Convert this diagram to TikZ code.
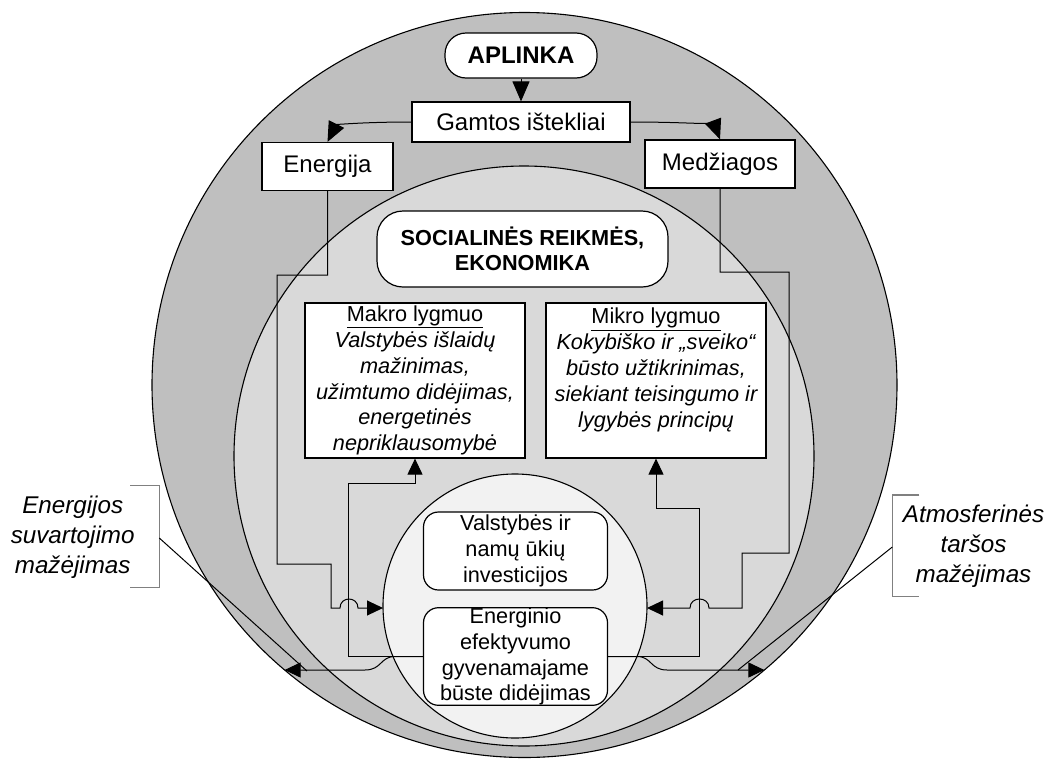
\documentclass[tikz,border=0pt]{standalone}
\usepackage{fontspec}
\setmainfont{Liberation Sans}
\usetikzlibrary{arrows.meta}
\begin{document}
\begin{tikzpicture}[x=1pt,y=-1pt,
  conn/.style={draw=black,line width=1pt},
  arr/.style={conn,-{Triangle[length=16pt,width=15pt]}},
  bigarr/.style={conn,-{Triangle[length=20pt,width=17pt]}},
  sqbox/.style={draw=black,line width=1.2pt,fill=white,inner sep=0pt,align=center},
  rbox/.style={sqbox,rounded corners=15pt},
  bigtxt/.style={font=\fontsize{24}{29}\selectfont},
  midtxt/.style={font=\fontsize{21.7}{25.8}\selectfont},
  lab/.style={font=\fontsize{24.2}{30}\selectfont\itshape,align=center,inner sep=0pt},
  bracket/.style={draw=black!50,line width=1.2pt},
  ring/.style={draw=black,line width=1.1pt}
]
\useasboundingbox (0,0) rectangle (1047,758);
\fill[white] (0,0) rectangle (1047,758);
% circles
\draw[ring,fill=black!25] (524.5,385) circle[radius=372.5pt];
\draw[ring,fill=black!15] (524,456) circle[radius=290pt];
\draw[ring,fill=black!5] (515,606) circle[radius=132pt];

% nodes
\node[sqbox,rounded corners=21pt,minimum width=152pt,minimum height=45pt,font=\fontsize{24}{29}\selectfont\bfseries] (apl) at (521,55.5) {APLINKA};
\node[sqbox,bigtxt,minimum width=218pt,minimum height=40pt] (gam) at (521,122) {Gamtos ištekliai};
\node[sqbox,bigtxt,minimum width=131pt,minimum height=48pt] (ene) at (327.5,166.5) {Energija};
\node[sqbox,bigtxt,minimum width=150pt,minimum height=48pt] (med) at (720,164) {Medžiagos};
\node[sqbox,rounded corners=26pt,minimum width=291pt,minimum height=76pt,font=\fontsize{21.7}{25}\selectfont\bfseries] (soc) at (522.5,249) {SOCIALINĖS REIKMĖS,\\EKONOMIKA};
\node[sqbox,midtxt,minimum width=220pt,minimum height=155pt] (mak) at (415,380.5) {\underline{Makro lygmuo}\\\itshape Valstybės išlaidų\\\itshape mažinimas,\\\itshape užimtumo didėjimas,\\\itshape energetinės\\\itshape nepriklausomybė};
\node[sqbox,midtxt,minimum width=220pt,minimum height=155pt] (mik) at (656,380.5) {\underline{Mikro lygmuo}\\\itshape Kokybiško ir „sveiko“\\\itshape būsto užtikrinimas,\\\itshape siekiant teisingumo ir\\\itshape lygybės principų\\\mbox{}};
\node[rbox,midtxt,minimum width=184pt,minimum height=78pt] (inv) at (515.5,551) {Valstybės ir\\namų ūkių\\investicijos};
\node[rbox,midtxt,minimum width=184pt,minimum height=97pt] (eff) at (515.5,656.5) {Energinio\\efektyvumo\\gyvenamajame\\būste didėjimas};
\node[lab] (lE) at (72.7,537) {Energijos\\suvartojimo\\mažėjimas};
\node[lab] (lA) at (973.5,546.5) {Atmosferinės\\taršos\\mažėjimas};

% coordinates
\coordinate (inL) at (383,608);
\coordinate (inR) at (647,608);
\coordinate (outL) at (284.6,670);
\coordinate (outR) at (764.4,670);
\coordinate (cL) at (159.3,538);
\coordinate (cLend) at (307,671);
\coordinate (cR) at (892.3,547);
\coordinate (cRend) at (738,670);

% brackets
\draw[bracket] (130,485.7) -- (159.3,485.7) -- (159.3,587.7) -- (130,587.7);
\draw[bracket] (919.3,495) -- (892.3,495) -- (892.3,596.7) -- (919.3,596.7);
\draw[conn] (cL) -- (cLend);
\draw[conn] (cR) -- (cRend);

% connectors
\draw[bigarr] (apl.south) -- (gam.north);
\draw[bigarr] (gam.west) .. controls (360,122) and (336,125) .. (ene.north);
\draw[bigarr] (gam.east) .. controls (697,122) and (715,126) .. (med.north);
\draw[arr] (ene.south) -- (327.5,275) -- (277,275) -- (277,564) -- (331,564) -- (331,608) -- (340,608)
  .. controls (340,596) and (358,596) .. (358,608) -- (inL);
\draw[arr] (med.south) -- (720,272) -- (789,272) -- (789,553) -- (742,553) -- (742,608) -- (709,608)
  .. controls (709,596) and (690,596) .. (690,608) -- (inR);
\draw[arr] (eff.west) -- (348,656.5) -- (348,483) -- (415,483) -- (mak.south);
\draw[arr] (eff.east) -- (699,656.5) -- (699,508) -- (656,508) -- (mik.south);
\draw[arr] (eff.west) -- (395,656.5) .. controls (380,656.5) and (382,670) .. (365,670) -- (outL);
\draw[arr] (eff.east) -- (637,656.5) .. controls (652,656.5) and (650,670) .. (667,670) -- (outR);
\end{tikzpicture}
\end{document}
